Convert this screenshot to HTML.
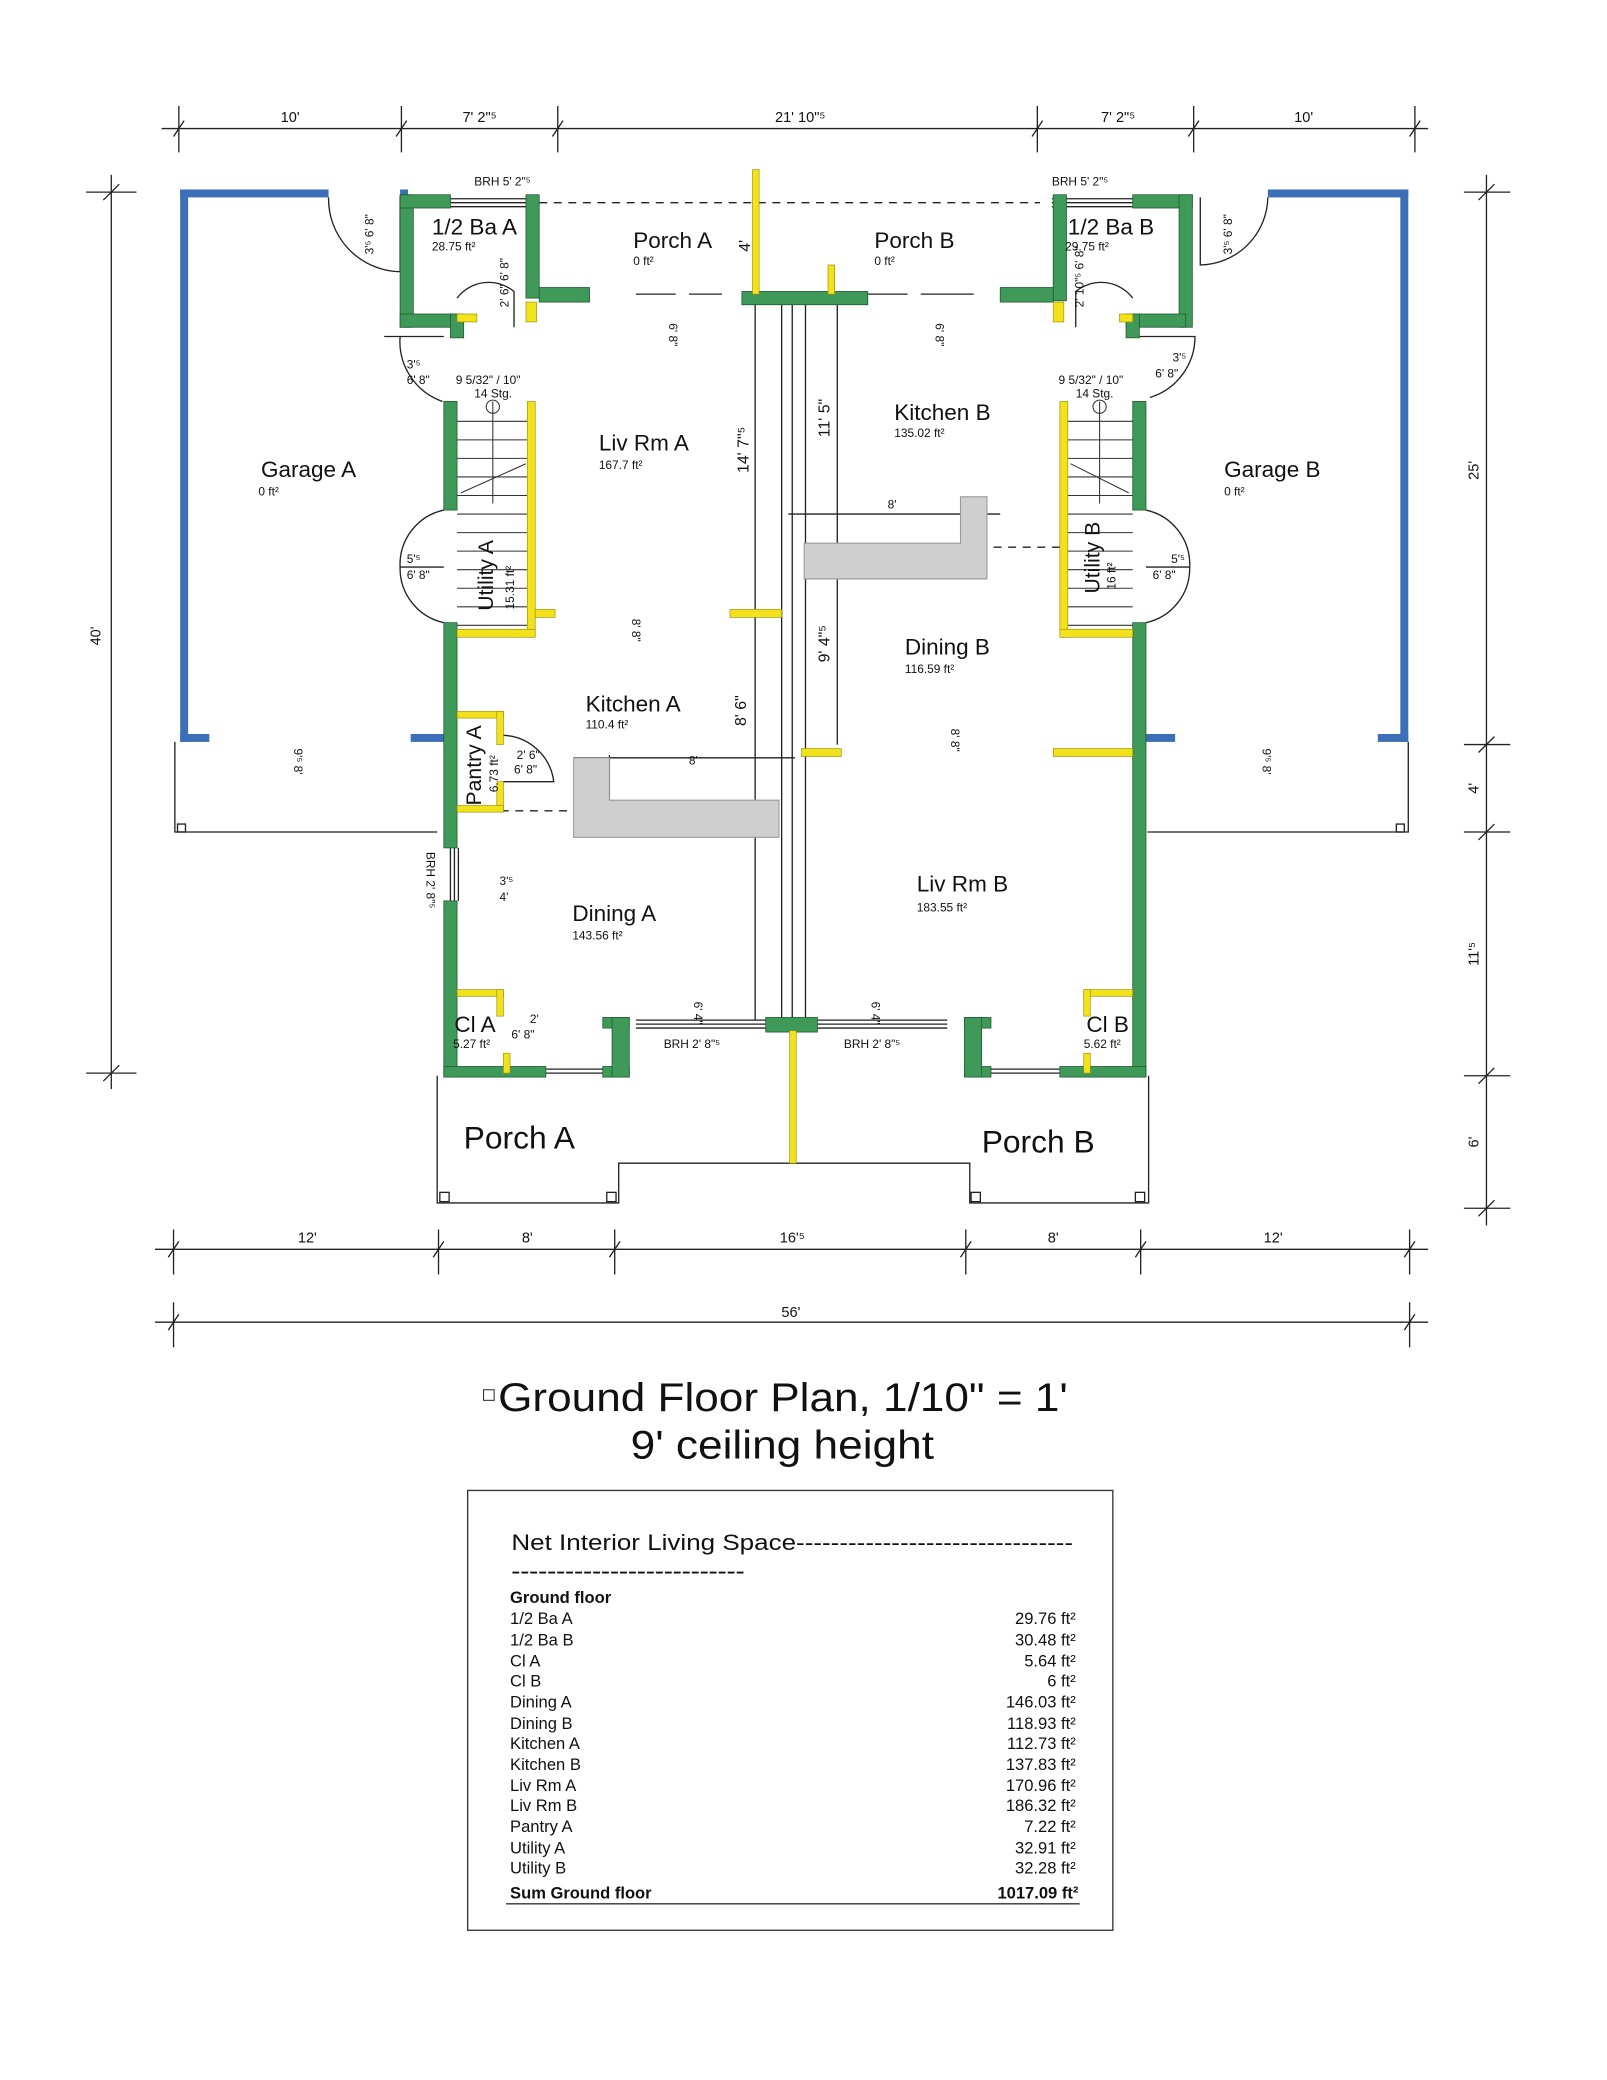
<!DOCTYPE html>
<html><head><meta charset="utf-8"><style>
html,body{margin:0;padding:0;background:#fff;}
svg{display:block;}
text{font-family:"Liberation Sans",sans-serif;fill:#111;}
</style></head><body>
<svg width="1607" height="2080" viewBox="0 0 1213 1570" xmlns="http://www.w3.org/2000/svg">
<rect width="1213" height="1570" fill="#fff"/>
<g stroke="#222" stroke-width="1" fill="none">
<line x1="122" y1="97" x2="1078" y2="97"/>
<line x1="135" y1="80" x2="135" y2="115"/><line x1="303" y1="80" x2="303" y2="115"/><line x1="421" y1="80" x2="421" y2="115"/><line x1="783" y1="80" x2="783" y2="115"/><line x1="901" y1="80" x2="901" y2="115"/><line x1="1068" y1="80" x2="1068" y2="115"/>
<path d="M131 103l8-12M299 103l8-12M417 103l8-12M779 103l8-12M897 103l8-12M1064 103l8-12"/>
<line x1="117" y1="943" x2="1078" y2="943"/>
<line x1="131" y1="928" x2="131" y2="962"/><line x1="331" y1="928" x2="331" y2="962"/><line x1="464" y1="928" x2="464" y2="962"/><line x1="729" y1="928" x2="729" y2="962"/><line x1="861" y1="928" x2="861" y2="962"/><line x1="1064" y1="928" x2="1064" y2="962"/>
<path d="M127 949l8-12M327 949l8-12M460 949l8-12M725 949l8-12M857 949l8-12M1060 949l8-12"/>
<line x1="117" y1="998" x2="1078" y2="998"/>
<line x1="131" y1="983" x2="131" y2="1017"/><line x1="1064" y1="983" x2="1064" y2="1017"/>
<path d="M127 1004l8-12M1060 1004l8-12"/>
<line x1="84" y1="132" x2="84" y2="822"/>
<line x1="65" y1="145" x2="103" y2="145"/><line x1="65" y1="810" x2="103" y2="810"/>
<path d="M78 151l12-12M78 816l12-12"/>
<line x1="1122" y1="132" x2="1122" y2="925"/>
<line x1="1105" y1="145" x2="1140" y2="145"/><line x1="1105" y1="562" x2="1140" y2="562"/><line x1="1105" y1="628" x2="1140" y2="628"/><line x1="1105" y1="812" x2="1140" y2="812"/><line x1="1105" y1="912" x2="1140" y2="912"/>
<path d="M1116 151l12-12M1116 568l12-12M1116 634l12-12M1116 818l12-12M1116 918l12-12"/>
</g>
<g font-size="11" text-anchor="middle">
<text x="219" y="92">10'</text><text x="362" y="92">7' 2"⁵</text><text x="604" y="92">21' 10"⁵</text><text x="844" y="92">7' 2"⁵</text><text x="984" y="92">10'</text>
<text x="232" y="938">12'</text><text x="398" y="938">8'</text><text x="598" y="938">16'⁵</text><text x="795" y="938">8'</text><text x="961" y="938">12'</text>
<text x="597" y="994">56'</text>
<text transform="translate(76,480) rotate(-90)">40'</text>
<text transform="translate(1116,355) rotate(-90)">25'</text>
<text transform="translate(1116,595) rotate(-90)">4'</text>
<text transform="translate(1116,720) rotate(-90)">11'⁵</text>
<text transform="translate(1116,862) rotate(-90)">6'</text>
</g>
<g fill="#3d6fb8">
<rect x="136" y="143" width="6" height="417"/><rect x="136" y="143" width="112" height="6"/><rect x="136" y="554" width="22" height="6"/><rect x="302" y="143" width="6" height="6"/><rect x="310" y="554" width="25" height="6"/>
<rect x="1057" y="143" width="6" height="417"/><rect x="957" y="143" width="106" height="6"/><rect x="1040" y="554" width="23" height="6"/><rect x="865" y="554" width="22" height="6"/>
</g>
<g stroke="#222" stroke-width="1" fill="none">
<path d="M132 560V628H330M1063 560V628H866"/>
<rect x="134" y="622" width="6" height="6"/><rect x="1054" y="622" width="6" height="6"/>
<path d="M248 149A55 55 0 0 0 300 205H302V149M957 149A52 52 0 0 1 906 200V149"/>
<path d="M302 254A48 48 0 0 0 334 303M335 254H290M855 254H902A48 48 0 0 1 868 300"/>
<path d="M335 385A42 42 0 0 0 302 428H335M335 470A42 42 0 0 1 302 428M865 385A42 42 0 0 1 898 428H865M865 470A42 42 0 0 0 898 428"/>
<path d="M380 555A40 40 0 0 1 418 590H380M345 225A30 30 0 0 1 388 220V247M855 225A30 30 0 0 0 812 220V247"/>
<path d="M407 153H785" stroke-dasharray="6 5"/>
<path d="M345 612H432M750 413H800" stroke-dasharray="6 5"/>
<path d="M570 228V770M590 228V770M598 228V770M608 228V770M632 228V562"/>
<path d="M595 388H755M460 570V604M433 572H600"/>
<path d="M330 812V908H467V878H732V908H867V812"/>
<rect x="332" y="900" width="7" height="7"/><rect x="458" y="900" width="7" height="7"/><rect x="733" y="900" width="7" height="7"/><rect x="857" y="900" width="7" height="7"/>
<path d="M480 770H580M480 773H580M480 776H580M617 770H715M617 773H715M617 776H715"/>
<path d="M340 640V680M343 640V680M346 640V680"/>
<path d="M340 150H397M340 153H397M340 156H397"/>
<path d="M794 150H855M794 153H855M794 156H855"/>
<path d="M412 810H455M412 807H455M748 810H800M748 807H800"/>
<path d="M480 222H510M520 222H545M655 222H685M695 222H735"/>
</g>
<g fill="#cfcfcf" stroke="#999" stroke-width="0.8">
<polygon points="433,572 460,572 460,604 588,604 588,632 433,632"/>
<polygon points="725,375 745,375 745,437 607,437 607,410 725,410"/>
</g>
<g stroke="#333" stroke-width="0.8" fill="none">
<path d="M345 318H398M345 332H398M345 346H398M345 360H398M345 374H398M345 388H398M345 402H398M345 416H398M345 430H398M345 444H398M345 458H398M345 472H398"/>
<path d="M805 318H855M805 332H855M805 346H855M805 360H855M805 374H855M805 388H855M805 402H855M805 416H855M805 430H855M805 444H855M805 458H855M805 472H855"/>
<path d="M372 303V380M830 303V380M348 372L397 350M808 350L852 372"/>
<circle cx="372" cy="307" r="5"/><circle cx="830" cy="307" r="5"/>
</g>
<g fill="#3f9a5a" stroke="#1f5a30" stroke-width="0.6">
<rect x="302" y="147" width="10" height="100"/><rect x="302" y="147" width="38" height="10"/><rect x="397" y="147" width="10" height="78"/><rect x="407" y="217" width="38" height="11"/><rect x="302" y="237" width="45" height="10"/><rect x="340" y="237" width="10" height="18"/>
<rect x="795" y="147" width="10" height="80"/><rect x="855" y="147" width="45" height="10"/><rect x="890" y="147" width="10" height="100"/><rect x="755" y="217" width="40" height="11"/><rect x="850" y="237" width="45" height="10"/><rect x="850" y="237" width="10" height="18"/>
<rect x="560" y="220" width="95" height="10"/>
<rect x="335" y="303" width="10" height="82"/><rect x="335" y="470" width="10" height="170"/><rect x="335" y="680" width="10" height="133"/>
<rect x="855" y="303" width="10" height="82"/><rect x="855" y="470" width="10" height="343"/>
<rect x="335" y="805" width="77" height="8"/><rect x="455" y="805" width="20" height="8"/><rect x="455" y="768" width="20" height="8"/><rect x="462" y="768" width="13" height="45"/>
<rect x="800" y="805" width="65" height="8"/><rect x="728" y="805" width="20" height="8"/><rect x="728" y="768" width="20" height="8"/><rect x="728" y="768" width="13" height="45"/>
<rect x="578" y="768" width="39" height="11"/>
</g>
<g fill="#f2e21c" stroke="#a09000" stroke-width="0.5">
<rect x="568" y="128" width="5" height="94"/><rect x="625" y="200" width="5" height="22"/>
<rect x="398" y="303" width="6" height="178"/><rect x="345" y="475" width="59" height="6"/><rect x="404" y="460" width="15" height="6"/>
<rect x="800" y="303" width="6" height="178"/><rect x="800" y="475" width="55" height="6"/>
<rect x="551" y="460" width="39" height="6"/><rect x="605" y="565" width="30" height="6"/><rect x="795" y="565" width="60" height="6"/>
<rect x="345" y="537" width="35" height="5"/><rect x="375" y="537" width="5" height="25"/><rect x="375" y="590" width="5" height="22"/><rect x="345" y="608" width="35" height="5"/>
<rect x="345" y="747" width="35" height="5"/><rect x="375" y="747" width="5" height="20"/><rect x="380" y="795" width="5" height="15"/>
<rect x="818" y="747" width="37" height="5"/><rect x="818" y="747" width="5" height="20"/><rect x="818" y="795" width="5" height="15"/>
<rect x="345" y="237" width="15" height="6"/><rect x="397" y="228" width="8" height="15"/><rect x="795" y="228" width="8" height="15"/><rect x="845" y="237" width="10" height="6"/>
<rect x="596" y="778" width="5" height="100"/>
</g>
<g font-size="17">
<text x="197" y="360">Garage A</text><text x="452" y="340">Liv Rm A</text><text x="478" y="187">Porch A</text><text x="660" y="187">Porch B</text>
<text x="675" y="317">Kitchen B</text><text x="924" y="360">Garage B</text><text x="683" y="494">Dining B</text><text x="442" y="537">Kitchen A</text>
<text x="432" y="695">Dining A</text><text x="692" y="673">Liv Rm B</text>
<text x="326" y="177">1/2 Ba A</text><text x="806" y="177">1/2 Ba B</text>
<text x="343" y="779">Cl A</text><text x="820" y="779">Cl B</text>
<text font-size="24" x="350" y="867">Porch A</text><text font-size="24" x="741" y="870">Porch B</text>
<text transform="translate(372,461) rotate(-90)" font-size="16">Utility A</text>
<text transform="translate(830,448) rotate(-90)" font-size="16">Utility B</text>
<text transform="translate(363,608) rotate(-90)" font-size="16">Pantry A</text>
</g>
<g font-size="9">
<text x="195" y="374">0 ft²</text><text x="452" y="354">167.7 ft²</text><text x="478" y="200">0 ft²</text><text x="660" y="200">0 ft²</text>
<text x="675" y="330">135.02 ft²</text><text x="924" y="374">0 ft²</text><text x="683" y="508">116.59 ft²</text><text x="442" y="550">110.4 ft²</text>
<text x="432" y="709">143.56 ft²</text><text x="692" y="688">183.55 ft²</text><text x="326" y="189">28.75 ft²</text><text x="804" y="189">29.75 ft²</text>
<text x="342" y="791">5.27 ft²</text><text x="818" y="791">5.62 ft²</text>
<text transform="translate(388,460) rotate(-90)">15.31 ft²</text><text transform="translate(842,445) rotate(-90)">16 ft²</text><text transform="translate(376,598) rotate(-90)">6.73 ft²</text>
<text x="358" y="140">BRH  5' 2"⁵</text><text x="794" y="140">BRH  5' 2"⁵</text>
<text x="501" y="791">BRH  2' 8"⁵</text><text x="637" y="791">BRH  2' 8"⁵</text>
<text x="344" y="290">9 5/32" / 10"</text><text x="358" y="300">14 Stg.</text>
<text x="799" y="290">9 5/32" / 10"</text><text x="812" y="300">14 Stg.</text>
<text x="307" y="278">3'⁵</text><text x="307" y="290">6' 8"</text><text x="885" y="273">3'⁵</text><text x="872" y="285">6' 8"</text>
<text x="307" y="425">5'⁵</text><text x="307" y="437">6' 8"</text><text x="884" y="425">5'⁵</text><text x="870" y="437">6' 8"</text>
<text x="390" y="573">2' 6"</text><text x="388" y="584">6' 8"</text>
<text x="377" y="668">3'⁵</text><text x="377" y="680">4'</text>
<text x="386" y="784">6' 8"</text><text x="400" y="772">2'</text>
<text x="520" y="577">8'</text><text x="670" y="384">8'</text>
<text transform="translate(322,643) rotate(90)">BRH  2' 8"⁵</text>
<text transform="translate(282,192) rotate(-90)">3'⁵ 6' 8"</text>
<text transform="translate(930,192) rotate(-90)">3'⁵ 6' 8"</text>
<text transform="translate(384,232) rotate(-90)">2' 6" 6' 8"</text>
<text transform="translate(818,232) rotate(-90)">2' 10"⁵ 6' 8"</text>
<text transform="translate(706,244) rotate(90)">6' 8"</text><text transform="translate(505,244) rotate(90)">6' 8"</text>
<text transform="translate(477,467) rotate(90)">8' 8"</text><text transform="translate(718,550) rotate(90)">8' 8"</text>
<text transform="translate(524,756) rotate(90)">6' 4"</text><text transform="translate(658,756) rotate(90)">6' 4"</text>
<text transform="translate(222,565) rotate(90)">9'⁵ 8'</text><text transform="translate(953,565) rotate(90)">9'⁵ 8'</text>
</g>
<g font-size="12">
<text transform="translate(565,357) rotate(-90)">14' 7"⁵</text>
<text transform="translate(626,330) rotate(-90)">11' 5"</text>
<text transform="translate(563,548) rotate(-90)">8' 6"</text>
<text transform="translate(626,500) rotate(-90)">9' 4"⁵</text>
<text transform="translate(566,190) rotate(-90)">4'</text>
</g>
<text x="376" y="1065" font-size="30" textLength="430" lengthAdjust="spacingAndGlyphs">Ground Floor Plan, 1/10" = 1'</text>
<text x="476" y="1101" font-size="30" textLength="229" lengthAdjust="spacingAndGlyphs">9' ceiling height</text>
<rect x="365" y="1049" width="8" height="8" fill="none" stroke="#333" stroke-width="0.8"/>
<rect x="353" y="1125" width="487" height="332" fill="none" stroke="#333" stroke-width="1"/>
<text x="386" y="1170" font-size="17" textLength="424" lengthAdjust="spacingAndGlyphs">Net Interior Living Space--------------------------------</text>
<text x="386" y="1190" font-size="12" font-weight="bold" textLength="176" lengthAdjust="spacingAndGlyphs">--------------------------</text>
<g font-size="12.5">
<text x="385" y="1210" font-weight="bold">Ground floor</text>
<text x="385" y="1226">1/2 Ba A</text><text x="385" y="1242">1/2 Ba B</text><text x="385" y="1258">Cl A</text><text x="385" y="1273">Cl B</text>
<text x="385" y="1289">Dining A</text><text x="385" y="1305">Dining B</text><text x="385" y="1320">Kitchen A</text><text x="385" y="1336">Kitchen B</text>
<text x="385" y="1352">Liv Rm A</text><text x="385" y="1367">Liv Rm B</text><text x="385" y="1383">Pantry A</text><text x="385" y="1399">Utility A</text>
<text x="385" y="1414">Utility B</text><text x="385" y="1433" font-weight="bold">Sum Ground floor</text>
</g>
<g font-size="12.5" text-anchor="end">
<text x="812" y="1226">29.76 ft²</text><text x="812" y="1242">30.48 ft²</text><text x="812" y="1258">5.64 ft²</text><text x="812" y="1273">6 ft²</text>
<text x="812" y="1289">146.03 ft²</text><text x="812" y="1305">118.93 ft²</text><text x="812" y="1320">112.73 ft²</text><text x="812" y="1336">137.83 ft²</text>
<text x="812" y="1352">170.96 ft²</text><text x="812" y="1367">186.32 ft²</text><text x="812" y="1383">7.22 ft²</text><text x="812" y="1399">32.91 ft²</text>
<text x="812" y="1414">32.28 ft²</text><text x="814" y="1433" font-weight="bold">1017.09 ft²</text>
</g>
<line x1="382" y1="1437" x2="815" y2="1437" stroke="#333" stroke-width="1"/>
</svg>
</body></html>
